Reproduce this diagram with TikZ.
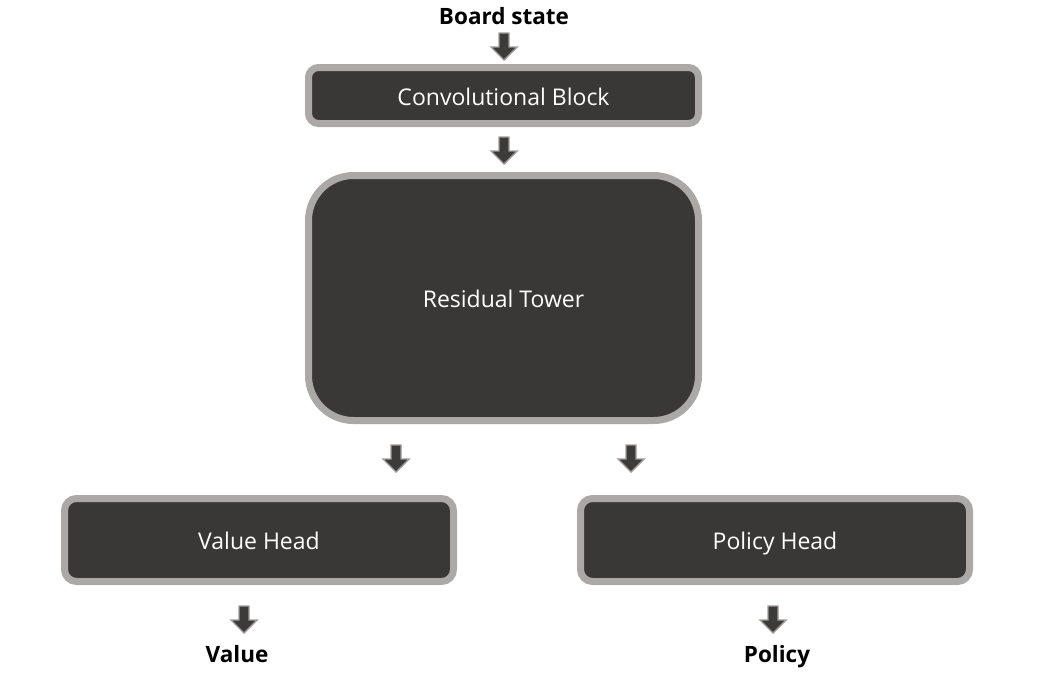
\documentclass[tikz,border=0pt]{standalone}
\usepackage{fontspec}
\setmainfont{Open Sans}
\begin{document}
\begin{tikzpicture}[x=1pt,y=-1pt,
  block/.style={draw=rimgray, fill=boxdark, line width=7pt, text=white,
    font=\fontsize{23}{27}\selectfont, inner sep=0pt,
    text height=19.4pt, text depth=0pt},
  label/.style={font=\bfseries\fontsize{22.5}{27}\selectfont, text=black, inner sep=0pt,
    text height=16.1pt, text depth=0pt},
  pics/downarrow/.style={code={
    \fill[arrowdark, draw=arrowrim, line width=1.4pt, line join=miter]
      (-5,0) -- (5,0) -- (5,14) -- (13,14) -- (0,27) -- (-13,14) -- (-5,14) -- cycle;
  }}]
\definecolor{rimgray}{HTML}{ACA8A6}
\definecolor{boxdark}{HTML}{3A3837}
\definecolor{arrowdark}{HTML}{3D3B3A}
\definecolor{arrowrim}{HTML}{A09C9A}
\useasboundingbox (0,0) rectangle (1049,686);

% boxes
\node[block, rounded corners=10pt, minimum width=390pt, minimum height=56pt] (conv) at (503.5,95.5) {Convolutional Block};
\node[block, rounded corners=45pt, minimum width=390pt, minimum height=245pt] (res) at (503.5,298) {Residual Tower};
\node[block, rounded corners=12pt, minimum width=389pt, minimum height=83pt] (value) at (259,540) {Value Head};
\node[block, rounded corners=12pt, minimum width=389pt, minimum height=83pt] (policy) at (775,540) {Policy Head};

% labels
\node[label] (board) at (504,16) {Board state};
\node[label] (valout) at (237,654) {Value};
\node[label] (polout) at (777,654) {Policy};

% block arrows
\pic (a1) at (504,33) {downarrow};
\pic (a2) at (504,137) {downarrow};
\pic (a3) at (396,445) {downarrow};
\pic (a4) at (631,445) {downarrow};
\pic (a5) at (244,606) {downarrow};
\pic (a6) at (773,606) {downarrow};
\end{tikzpicture}
\end{document}
